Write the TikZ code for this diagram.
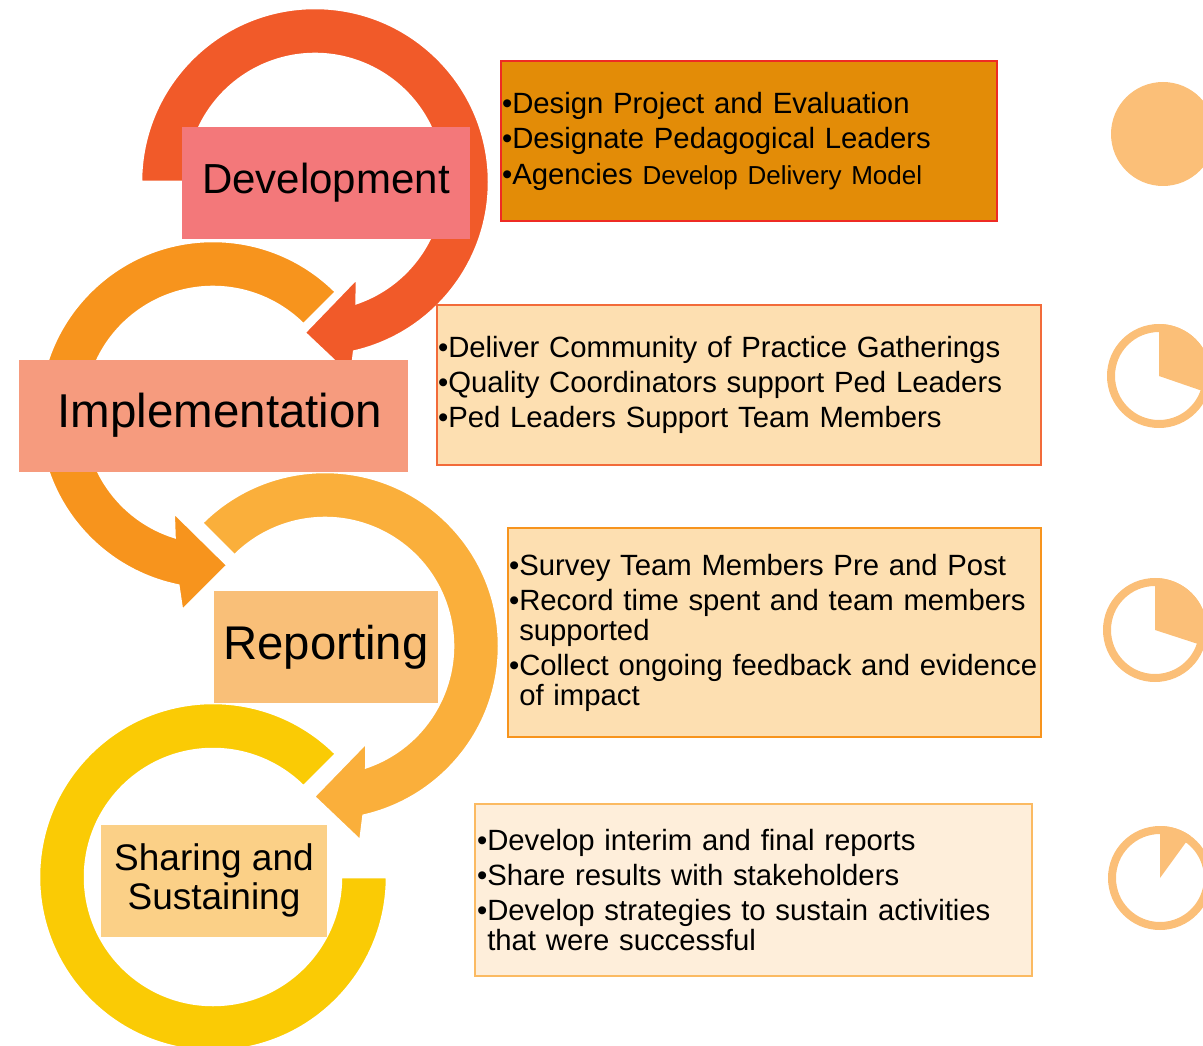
\documentclass[tikz,border=0pt]{standalone}
\usepackage{fontspec}
\setmainfont{Liberation Sans}
\usepackage{tikz}
\usetikzlibrary{calc,positioning}

\definecolor{ringdev}{HTML}{F15A29}
\definecolor{ringimp}{HTML}{F7941D}
\definecolor{ringrep}{HTML}{FAAF3B}
\definecolor{ringshare}{HTML}{FACB05}
\definecolor{devbox}{HTML}{F3787A}
\definecolor{impbox}{HTML}{F69B7E}
\definecolor{repbox}{HTML}{F9BF78}
\definecolor{sharebox}{HTML}{FBD087}
\definecolor{devlistfill}{HTML}{E38C07}
\definecolor{devlistline}{HTML}{EE2B24}
\definecolor{midlistfill}{HTML}{FDDFB1}
\definecolor{implistline}{HTML}{F26B3A}
\definecolor{sharelistfill}{HTML}{FEEEDA}
\definecolor{sharelistline}{HTML}{FBBA62}
\definecolor{piecol}{HTML}{FBBF78}

\tikzset{
	stage/.style={fill=#1, inner sep=0pt, align=center, minimum height=112pt},
	listbox/.style={draw=#1, line width=1.5pt, inner xsep=1pt, inner ysep=0pt, align=left,
		font=\fontsize{29.3}{30}\selectfont},
	ring/.style={fill=#1, draw=white, line width=2.5pt}
}

\begin{document}
\begin{tikzpicture}[x=1pt,y=-1pt]
		\useasboundingbox (0,0) rectangle (1203,1046);
		\clip (0,0) rectangle (1203,1046);
		\fill[ring=ringshare] ($(213,877)+(-45:174)$) arc[start angle=-45,end angle=-360,radius=174]
			-- ($(213,877)+(0:128)$) arc[start angle=-360,end angle=-45,radius=128] -- cycle;
		\foreach \cx/\cy/\a/\b/\s/\col in {325/646/225/433.7/1/ringrep, 213/415/-45/-255/-1/ringimp, 315/182/180/433.5/1/ringdev}
			\fill[ring=\col] ($(\cx,\cy)+(\a:174)$) arc[start angle=\a,end angle={\b+3.5*\s},radius=174]
				-- ($(\cx,\cy)+({\b+6*\s}:198)$) -- ($(\cx,\cy)+({\b+20.5*\s}:151)$) -- ($(\cx,\cy)+({\b-7*\s}:105)$)
				-- ($(\cx,\cy)+({\b-2.5*\s}:128)$) arc[start angle={\b-2.5*\s},end angle=\a,radius=128] -- cycle;
		\node[stage=devbox, minimum width=288pt, font=\fontsize{42}{44}\selectfont] (dev) at (326,183) {Development};
		\node[stage=impbox, minimum width=389pt, font=\fontsize{47.5}{50}\selectfont] (imp) at (213.5,415.5) {\hspace*{13pt}Implementation};
		\node[stage=repbox, minimum width=224pt, font=\fontsize{47.3}{50}\selectfont] (rep) at (326,647) {Reporting};
		\node[stage=sharebox, minimum width=226pt, font=\fontsize{37}{38.7}\selectfont] (share) at (214,880.6) {Sharing and\\Sustaining};
		\node[listbox=devlistline, fill=devlistfill, text width=494pt, minimum height=160pt] (devlist) at (749,141)
			{•Design Project and Evaluation\\[5.5pt]•Designate Pedagogical Leaders\\[5.5pt]•Agencies {\fontsize{26}{30}\selectfont Develop Delivery Model}};
		\node[listbox=implistline, fill=midlistfill, text width=602pt, minimum height=160pt] (implist) at (739,385)
			{•Deliver Community of Practice Gatherings\\[5pt]•Quality Coordinators support Ped Leaders\\[5pt]•Ped Leaders Support Team Members};
		\node[listbox=ringimp, fill=midlistfill, text width=531pt, minimum height=209pt] (replist) at (774.5,632.5)
			{•Survey Team Members Pre and Post\\[5pt]•Record time spent and team members\\\phantom{•}supported\\[5pt]•Collect ongoing feedback and evidence\\\phantom{•}of impact};
		\node[listbox=sharelistline, fill=sharelistfill, inner xsep=2pt, text width=553pt, minimum height=172pt] (sharelist) at (753.5,890)
			{•Develop interim and final reports\\[5pt]•Share results with stakeholders\\[5pt]•Develop strategies to sustain activities\\\phantom{•}that were successful};
		\fill[piecol] (1163,134) circle[radius=52];
		\foreach \px/\py/\e in {1159/376/19, 1155/630/18, 1160/878/-54}{
				\draw[piecol,line width=8pt] (\px,\py) circle[radius=48];
				\fill[piecol] (\px,\py) -- ++(-90:52) arc[start angle=-90,end angle=\e,radius=52] -- cycle;
		}
\end{tikzpicture}
\end{document}
